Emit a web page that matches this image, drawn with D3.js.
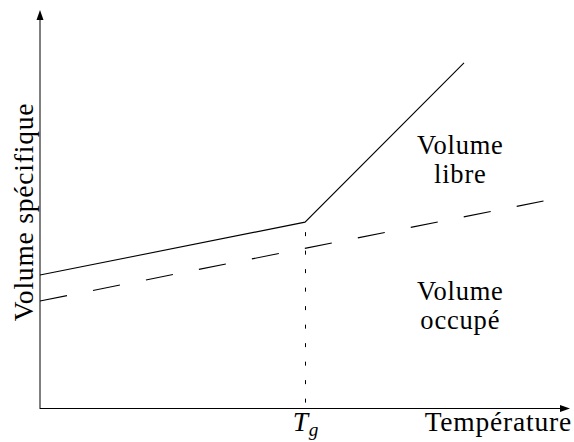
<!DOCTYPE html>
<html><head><meta charset="utf-8">
<script src="https://cdn.jsdelivr.net/npm/d3@7"></script>
<style>body{margin:0;background:#fff}svg{display:block}</style>
</head><body>
<svg id="c" width="574" height="442"></svg>
<script>
const liquidLine = [[0,33.4],[50,46.7],[80,86.7]];
const occupiedLine = [[0,26.9],[95,52]];
const Tg = 50;
const xLabel = "Température";
const yLabel = "Volume spécifique";
const freeLabel = ["Volume","libre"];
const occLabel = ["Volume","occupé"];

const FONT = '"Liberation Serif"';
const FS = 27.5, LS = 0.8;
const svg = d3.select("#c");
const x = d3.scaleLinear().domain([0,100]).range([40,570]);
const y = d3.scaleLinear().domain([0,100]).range([408,10]);
const line = d3.line().x(d=>x(d[0])).y(d=>y(d[1]));

// axes
svg.append("line").attr("x1",x(0)).attr("x2",x(100)-7).attr("y1",y(0)+0.5).attr("y2",y(0)+0.5).attr("stroke","#000");
svg.append("line").attr("x1",x(0)).attr("x2",x(0)).attr("y1",y(0)+1).attr("y2",y(100)+7).attr("stroke","#000");
svg.append("path").attr("d",`M${x(100)},${y(0)+0.5}L${x(100)-10},${y(0)+0.5-3.5}L${x(100)-10},${y(0)+0.5+3.5}Z`).attr("fill","#000");
svg.append("path").attr("d",`M${x(0)},${y(100)}L${x(0)-3.5},${y(100)+10}L${x(0)+3.5},${y(100)+10}Z`).attr("fill","#000");

// dotted Tg
const kneeY = liquidLine[1][1];
svg.append("line").attr("x1",x(Tg)+0.5).attr("x2",x(Tg)+0.5).attr("y1",y(kneeY)).attr("y2",y(0))
  .attr("stroke","#000").attr("stroke-dasharray","4,14.5").attr("stroke-dashoffset",-10);

svg.append("path").attr("d",line(liquidLine)).attr("fill","none").attr("stroke","#000").attr("stroke-width",1.1);
svg.append("path").attr("d",line(occupiedLine)).attr("fill","none").attr("stroke","#000").attr("stroke-width",1.1)
  .attr("stroke-dasharray","27.5,26.5");

// labels
const T = (sel,fs=FS)=>sel.attr("font-family",FONT).attr("fill","#000").attr("font-size",fs).attr("letter-spacing",LS);
T(svg.append("text")).attr("x",572).attr("y",431).attr("text-anchor","end").text(xLabel);
const tg = T(svg.append("text")).attr("x",x(Tg)+1).attr("y",431).attr("text-anchor","middle").attr("font-style","italic");
tg.append("tspan").text("T");
tg.append("tspan").attr("font-size",FS*0.7).attr("dy",5).text("g");
T(svg.append("text")).attr("transform",`translate(33,${212}) rotate(-90)`).attr("text-anchor","middle").text(yLabel);
freeLabel.forEach((t,i)=>T(svg.append("text"),26.5).attr("x",x(79.3)).attr("y",154+i*29).attr("text-anchor","middle").text(t));
occLabel.forEach((t,i)=>T(svg.append("text"),26.5).attr("x",x(79.3)).attr("y",300+i*29).attr("text-anchor","middle").text(t));
</script>
</body></html>
